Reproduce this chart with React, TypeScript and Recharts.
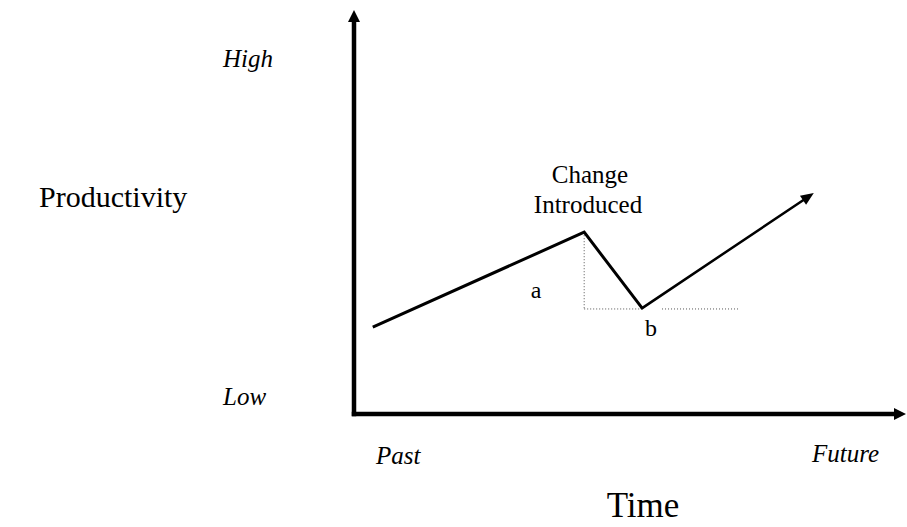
import { LineChart, Line, XAxis, YAxis, ReferenceLine } from 'recharts';

// Productivity (0 = low, 100 = high) over time (0 = past, 100 = future)
const declineTimes = [3.4, 41.7, 52.2];
const declineValues = [21.5, 45.0, 26.2];
const recoveryTimes = [52.2, 83.3];
const recoveryValues = [26.2, 54.7];
const baselineLevel = 26.0;
const baselineGap = [55.8, 69.6];

const decline = declineTimes.map((t, i) => ({ t, p: declineValues[i] }));

const SERIF = '"Liberation Serif", "Times New Roman", serif';

// line with a filled arrowhead at (x2, y2)
const arrow = (width: number, len: number, half: number) => (props: any) => {
  const { x1, y1, x2, y2 } = props;
  const dx = x2 - x1;
  const dy = y2 - y1;
  const d = Math.sqrt(dx * dx + dy * dy) || 1;
  const ux = dx / d;
  const uy = dy / d;
  const bx = x2 - ux * len;
  const by = y2 - uy * len;
  const pts = `${x2},${y2} ${bx - uy * half},${by + ux * half} ${bx + uy * half},${by - ux * half}`;
  return (
    <g>
      <line x1={x1} y1={y1} x2={bx + ux * 2} y2={by + uy * 2} stroke="#000" strokeWidth={width} strokeLinecap="square" />
      <polygon points={pts} fill="#000" />
    </g>
  );
};

export default function App() {
  return (
    <div style={{ position: 'absolute', left: 0, top: 0, width: 907, height: 527, background: '#fff' }}>
      <LineChart width={907} height={527} margin={{ top: 10, right: 1, bottom: 113, left: 354 }}>
        <XAxis dataKey="t" type="number" domain={[0, 100]} hide />
        <YAxis type="number" domain={[0, 100]} hide />

        {/* axes */}
        <ReferenceLine segment={[{ x: 0, y: 0 }, { x: 0, y: 100 }]} ifOverflow="visible" shape={arrow(4.5, 12, 6)} />
        <ReferenceLine segment={[{ x: 0, y: 0 }, { x: 100, y: 0 }]} ifOverflow="visible" shape={arrow(4.5, 12, 6)} />

        {/* dotted guides */}
        <ReferenceLine
          segment={[{ x: declineTimes[1], y: declineValues[1] }, { x: declineTimes[1], y: baselineLevel }]}
          stroke="#555"
          strokeWidth={1}
          strokeDasharray="1 2"
          ifOverflow="visible"
        />
        <ReferenceLine
          segment={[{ x: declineTimes[1], y: baselineLevel }, { x: declineTimes[2], y: baselineLevel }]}
          stroke="#555"
          strokeWidth={1}
          strokeDasharray="1 2"
          ifOverflow="visible"
        />
        <ReferenceLine
          segment={[{ x: baselineGap[0], y: baselineLevel }, { x: baselineGap[1], y: baselineLevel }]}
          stroke="#555"
          strokeWidth={1}
          strokeDasharray="1 2"
          ifOverflow="visible"
        />

        <Line
          data={decline}
          dataKey="p"
          stroke="#000"
          strokeWidth={3}
          dot={false}
          isAnimationActive={false}
        />
        <ReferenceLine
          segment={[
            { x: recoveryTimes[0], y: recoveryValues[0] },
            { x: recoveryTimes[1], y: recoveryValues[1] },
          ]}
          ifOverflow="visible"
          shape={arrow(2.5, 13, 5.5)}
        />
      </LineChart>

      <svg
        width={907}
        height={527}
        style={{ position: 'absolute', left: 0, top: 0, pointerEvents: 'none' }}
        fontFamily={SERIF}
        fill="#000"
      >
        <text x={223} y={67} fontSize={25} fontStyle="italic">High</text>
        <text x={223} y={405} fontSize={25} fontStyle="italic">Low</text>
        <text x={376} y={464} fontSize={25} fontStyle="italic">Past</text>
        <text x={812} y={462} fontSize={25} fontStyle="italic">Future</text>
        <text x={39} y={207} fontSize={30}>Productivity</text>
        <text x={643} y={517} fontSize={35} textAnchor="middle">Time</text>
        <text x={590} y={183} fontSize={25} textAnchor="middle">Change</text>
        <text x={588} y={213} fontSize={25} textAnchor="middle">Introduced</text>
        <text x={536} y={298} fontSize={24} textAnchor="middle">a</text>
        <text x={651} y={336} fontSize={24} textAnchor="middle">b</text>
      </svg>
    </div>
  );
}
